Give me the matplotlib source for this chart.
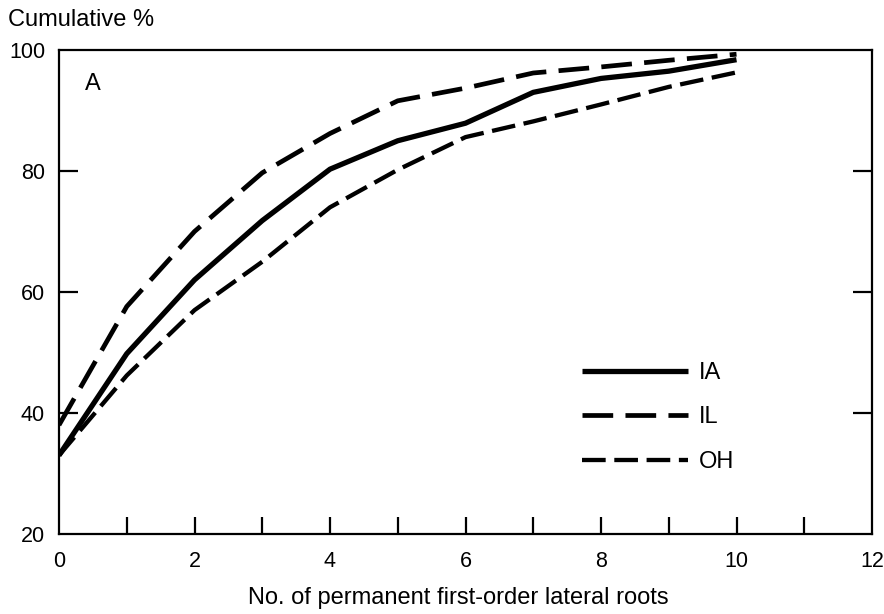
import matplotlib
matplotlib.use("Agg")
import matplotlib.pyplot as plt

x_vals = [0, 1, 2, 3, 4, 5, 6, 7, 8, 9, 10]
ia_vals = [33.0, 49.8, 62.0, 71.8, 80.3, 85.0, 87.9, 93.0, 95.3, 96.5, 98.4]
il_vals = [38.0, 57.6, 70.0, 79.7, 86.2, 91.6, 93.7, 96.2, 97.2, 98.3, 99.3]
oh_vals = [33.0, 46.2, 57.0, 65.0, 74.0, 80.2, 85.6, 88.2, 91.0, 93.9, 96.3]

x_ticks = list(range(0, 13))
x_labels = [str(v) if v % 2 == 0 else "" for v in x_ticks]
y_ticks = [20, 40, 60, 80, 100]
y_labels = [str(v) for v in y_ticks]

plt.rcParams['font.family'] = ['Liberation Sans', 'DejaVu Sans']

fig = plt.figure(figsize=(8.84, 6.14), dpi=100)
ax = fig.add_axes([59/884, 80/614, 813/884, 484/614])

ax.plot(x_vals, ia_vals, color='black', lw=3.8, solid_capstyle='butt',
        solid_joinstyle='round', label='IA')
ax.plot(x_vals, il_vals, color='black', lw=3.4, dashes=(6.5, 2.6), dash_capstyle='butt', label='IL')
ax.plot(x_vals, oh_vals, color='black', lw=3.1, dashes=(5.5, 2.0), dash_capstyle='butt', label='OH')

ax.set_xlim(0, 12)
ax.set_ylim(20, 100)
ax.set_xticks(x_ticks)
ax.set_xticklabels(x_labels)
ax.set_yticks(y_ticks)
ax.set_yticklabels(y_labels)

for s in ax.spines.values():
    s.set_linewidth(1.6)

ax.tick_params(axis='x', direction='in', length=12, width=1.6, labelsize=15.5, pad=12, top=False)
ax.tick_params(axis='y', direction='in', length=13.5, width=1.6, labelsize=15.5, pad=10, right=True)

xt = ax.xaxis.get_major_ticks()
xt[0].tick1line.set_visible(False)
xt[-1].tick1line.set_visible(False)
yt = ax.yaxis.get_major_ticks()
for i in (0, len(yt) - 1):
    yt[i].tick1line.set_visible(False)
    yt[i].tick2line.set_visible(False)

ax.text(0.032, 0.93, 'A', transform=ax.transAxes, fontsize=17, ha='left', va='center')

fig.text(8/884, 1 - 20/614, 'Cumulative %', fontsize=17, ha='left', va='center')
fig.text(458/884, 1 - 598/614, 'No. of permanent first-order lateral roots', fontsize=17,
         ha='center', va='center')

ax.legend(loc='upper left', bbox_to_anchor=((582 - 59) / 813, (534 - 362) / 484),
          frameon=False, fontsize=17, handlelength=4.5, handletextpad=0.45,
          labelspacing=0.95, borderpad=0, borderaxespad=0)

fig.savefig('out.png', dpi=100)
